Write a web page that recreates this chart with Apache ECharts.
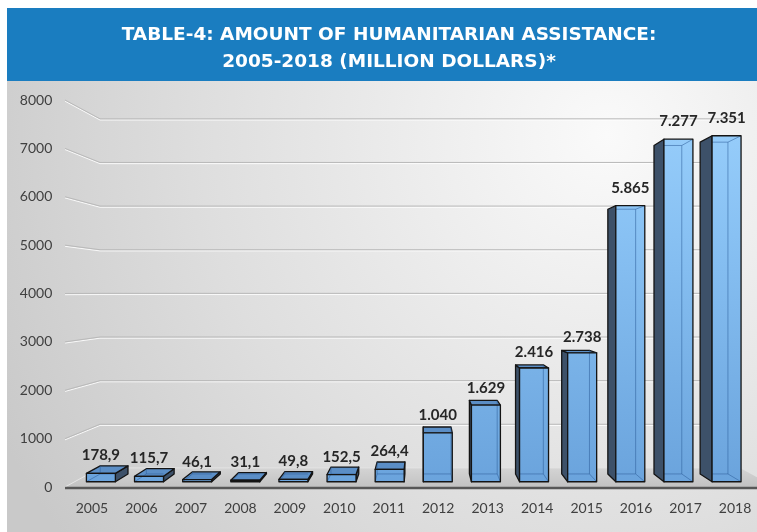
<!DOCTYPE html>
<html><head><meta charset="utf-8">
<script src="https://cdn.jsdelivr.net/npm/echarts@6/dist/echarts.min.js"></script>
<style>html,body{margin:0;padding:0;background:#fff}#c{width:757px;height:532px}</style>
</head><body><div id="c"></div>
<script>
// ---- data ----
const years = ['2005','2006','2007','2008','2009','2010','2011','2012','2013','2014','2015','2016','2017','2018'];
const amounts = [178.9, 115.7, 46.1, 31.1, 49.8, 152.5, 264.4, 1040, 1629, 2416, 2738, 5865, 7277, 7351];
const yTicks = [0, 1000, 2000, 3000, 4000, 5000, 6000, 7000, 8000];
const titleText = 'TABLE-4: AMOUNT OF HUMANITARIAN ASSISTANCE:\n2005-2018 (MILLION DOLLARS)*';

// ---- perspective style settings ----
const VP = [6.67, 4030];          // vanishing point (category index, value)
const K_WALL = 0.902, K_FRONT = 0.973, K_BACK = 0.933;
const HALF_W = 0.301;             // half bar width, in category units
const WALL_L = -0.545, WALL_R = 13.8;

function fmt(v){
  if (v < 1000) return v.toFixed(1).replace('.', ',');
  return Math.round(v).toString().replace(/\B(?=(\d{3})+(?!\d))/g, '.');
}
function geom(api){
  const p0 = api.coord([0, 0]);
  const band = api.coord([1, 0])[0] - p0[0];
  const X = i => p0[0] + i * band;
  const Y = v => api.coord([0, v])[1];
  const vx = X(VP[0]), vy = Y(VP[1]);
  const P = (x, y, k) => [vx + (x - vx) * k, vy + (y - vy) * k];
  return {X, Y, P, vx, vy};
}

const chart = echarts.init(document.getElementById('c'), null, {renderer: 'canvas'});
const EDGE = '#141414';

const option = {
  animation: false,
  title: {
    text: titleText, left: 384, top: 17, textAlign: 'center',
    textStyle: {color: '#fff', fontFamily: 'DejaVu Sans', fontWeight: 'bold', fontSize: 18.5, lineHeight: 27}
  },
  graphic: [
    {type: 'rect', z: -10, silent: true, shape: {x: 7, y: 8, width: 750, height: 73}, style: {fill: '#1a7dc0'}},
    {type: 'rect', z: -10, silent: true, shape: {x: 7, y: 81, width: 750, height: 451},
     style: {fill: new echarts.graphic.RadialGradient(0.8, 0.12, 1.5, [
       {offset: 0, color: '#fafafa'}, {offset: 0.6, color: '#dedede'}, {offset: 1, color: '#c9c9c9'}])}}
  ],
  grid: {left: 67.25, top: 100, width: 692.5, height: 387, containLabel: false, outerBoundsMode: 'none'},
  xAxis: {
    type: 'category', data: years,
    axisLine: {show: false}, axisTick: {show: false},
    axisLabel: {color: '#404040', fontFamily: 'Lato', fontSize: 14, margin: 14}
  },
  yAxis: {
    type: 'value', min: 0, max: 8000, interval: 1000,
    splitLine: {show: false}, axisLine: {show: false}, axisTick: {show: false},
    axisLabel: {color: '#404040', fontFamily: 'Lato', fontSize: 14, margin: 15, formatter: v => String(v)}
  },
  series: [
    { // floor
      type: 'custom', z: 1, silent: true,
      data: [[0, 0]], encode: {x: 0, y: 1},
      renderItem(params, api){
        const g = geom(api);
        const y0 = g.Y(0);
        const fl = [g.X(WALL_L), y0], fr = [g.X(WALL_R), y0];
        const bl = g.P(fl[0], y0, K_WALL), br = g.P(fr[0], y0, K_WALL);
        return {type: 'group', children: [
          {type: 'polygon', shape: {points: [fl, bl, br, fr]},
           style: {fill: new echarts.graphic.LinearGradient(0, 0, 0, 1, [
             {offset: 0, color: '#d4d4d4'}, {offset: 1, color: '#c2c2c2'}]), stroke: null}},
          {type: 'line', shape: {x1: bl[0], y1: bl[1], x2: br[0], y2: br[1]}, style: {stroke: '#e4e4e4', lineWidth: 1}},
          {type: 'line', shape: {x1: fl[0], y1: fl[1], x2: bl[0], y2: bl[1]}, style: {stroke: '#e6e6e6', lineWidth: 1}},
          {type: 'line', shape: {x1: fl[0], y1: fl[1] + 1, x2: fr[0], y2: fr[1] + 1}, style: {stroke: '#575757', lineWidth: 2.4}}
        ]};
      }
    },
    { // gridlines on side & back walls
      type: 'custom', z: 1, silent: true,
      data: yTicks.filter(t => t > 0).map(t => [0, t]), encode: {x: 0, y: 1},
      renderItem(params, api){
        const g = geom(api);
        const t = api.value(1);
        const y = g.Y(t);
        const f = [g.X(WALL_L), y];
        const b = g.P(f[0], y, K_WALL);
        const r = g.P(g.X(WALL_R), y, K_WALL);
        const sh = p => [p[0], p[1] + 1.2];
        return {type: 'group', children: [
          {type: 'polyline', shape: {points: [sh(f), sh(b), sh(r)]}, style: {stroke: '#ffffff', opacity: 0.85, lineWidth: 1, fill: null}},
          {type: 'polyline', shape: {points: [f, b, r]}, style: {stroke: '#b9b9b9', lineWidth: 1, fill: null}}
        ]};
      }
    },
    { // 3D bars
      type: 'custom', z: 2,
      data: amounts.map((v, i) => [i, v]), encode: {x: 0, y: 1},
      renderItem(params, api){
        const g = geom(api);
        const i = api.value(0), v = api.value(1);
        const xl = g.X(i - HALF_W), xr = g.X(i + HALF_W), y0 = g.Y(0), y1 = g.Y(v);
        const face = k => ({tl: g.P(xl, y1, k), tr: g.P(xr, y1, k), bl: g.P(xl, y0, k), br: g.P(xr, y0, k)});
        const F = face(K_FRONT), B = face(K_BACK);
        const rightOfV = g.X(i) > g.vx;
        const topVisible = F.tl[1] > g.vy;
        const frontFill = new echarts.graphic.LinearGradient(0, g.Y(8000), 0, g.Y(0), [
          {offset: 0, color: '#9ad0fc'}, {offset: 0.35, color: '#88c1f3'}, {offset: 1, color: '#6aa3dc'}], true);
        const ch = [];
        const side = rightOfV ? [F.tl, B.tl, B.bl, F.bl] : [F.tr, B.tr, B.br, F.br];
        ch.push({type: 'polygon', shape: {points: side}, style: {fill: '#3d5169', stroke: EDGE, lineWidth: 1.3, lineJoin: 'round'}});
        if (topVisible) {
          ch.push({type: 'polygon', shape: {points: [F.tl, F.tr, B.tr, B.tl]}, style: {fill: '#5b8ec6', stroke: EDGE, lineWidth: 1.3, lineJoin: 'round'}});
        }
        ch.push({type: 'polygon', shape: {points: [F.tl, F.tr, F.br, F.bl]}, style: {fill: frontFill, stroke: null}});
        // hidden (see-through) back edges
        const hid = {stroke: 'rgba(45,95,155,0.55)', lineWidth: 1};
        const L = (a, b) => ch.push({type: 'line', shape: {x1: a[0], y1: a[1], x2: b[0], y2: b[1]}, style: hid});
        if (rightOfV) {
          L(B.tr, B.br);
          L([Math.max(B.bl[0], F.bl[0]), B.bl[1]], B.br);
          L(F.br, B.br);
          if (!topVisible) { L([Math.max(B.tl[0], F.tl[0]), B.tl[1]], B.tr); L(F.tr, B.tr); }
        } else {
          L(B.tl, B.bl);
          L(B.bl, [Math.min(B.br[0], F.br[0]), B.br[1]]);
          L(F.bl, B.bl);
          if (!topVisible) { L(B.tl, [Math.min(B.tr[0], F.tr[0]), B.tr[1]]); L(F.tl, B.tl); }
        }
        ch.push({type: 'polygon', shape: {points: [F.tl, F.tr, F.br, F.bl]}, style: {fill: null, stroke: EDGE, lineWidth: 1.3, lineJoin: 'round'}});
        const ly = Math.min(F.tl[1], B.tl[1]) - (10 + 8 * Math.min(v, 6000) / 6000);
        ch.push({type: 'text', style: {text: fmt(v), x: (F.tl[0] + F.tr[0]) / 2, y: ly, align: 'center', verticalAlign: 'middle',
          fill: '#262626', font: 'bold 15px Lato'}});
        return {type: 'group', children: ch};
      }
    }
  ]
};
chart.setOption(option);
</script>
</body></html>
